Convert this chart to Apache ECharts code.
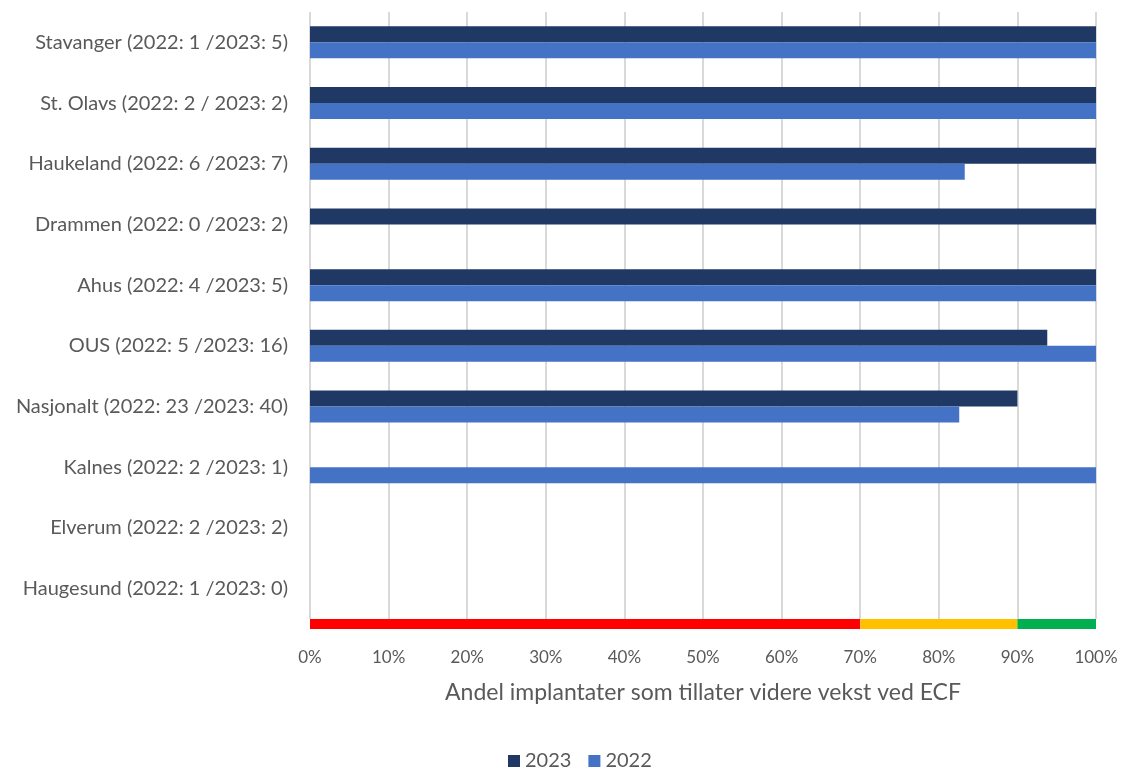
<!DOCTYPE html>
<html>
<head>
<meta charset="utf-8">
<script src="https://cdn.jsdelivr.net/npm/echarts@6/dist/echarts.min.js"></script>
<style>
  html, body { margin: 0; padding: 0; background: #ffffff; }
  #chart { width: 1127px; height: 769px; }
</style>
</head>
<body>
<div id="chart"></div>
<script>
// Sykehus, med antall implantater i parentes
const categories = [
  'Stavanger (2022: 1 /2023: 5)',
  'St. Olavs (2022: 2 / 2023: 2)',
  'Haukeland (2022: 6 /2023: 7)',
  'Drammen (2022: 0 /2023: 2)',
  'Ahus (2022: 4 /2023: 5)',
  'OUS (2022: 5 /2023: 16)',
  'Nasjonalt (2022: 23 /2023: 40)',
  'Kalnes (2022: 2 /2023: 1)',
  'Elverum (2022: 2 /2023: 2)',
  'Haugesund (2022: 1 /2023: 0)'
];

// Andel (%) implantater som tillater videre vekst
const values2023 = [100, 100, 100, 100, 100, 93.8, 90, 0, 0, null];
const values2022 = [100, 100, 83.3, null, 100, 100, 82.6, 100, 0, 0];

// Fargesoner langs x-aksen: rød / gul / grønn (bredde i prosentpoeng)
const zoneNames = ['Rød', 'Gul', 'Grønn'];
const zoneWidths = [70, 20, 10];
const zoneColors = ['#FF0000', '#FFC000', '#00B050'];

const xTicks = [0, 10, 20, 30, 40, 50, 60, 70, 80, 90, 100];

const FONT = 'Lato, "Open Sans", sans-serif';
const TEXT = '#595959';

const chart = echarts.init(document.getElementById('chart'), null, { renderer: 'canvas' });

const zoneSeries = zoneWidths.map((w, i) => ({
  name: zoneNames[i],
  type: 'bar',
  xAxisIndex: 1,
  yAxisIndex: 1,
  stack: 'soner',
  barWidth: '100%',
  data: [w],
  itemStyle: { color: zoneColors[i] },
  silent: true
}));

chart.setOption({
  animation: false,
  backgroundColor: '#ffffff',
  textStyle: { fontFamily: FONT },
  legend: {
    data: ['2023', '2022'],
    bottom: -7,
    left: 503,
    itemWidth: 12,
    itemHeight: 12,
    itemGap: 17,
    icon: 'rect',
    textStyle: { color: TEXT, fontSize: 20, fontFamily: FONT }
  },
  grid: [
    { left: 310, right: 31, top: 12, bottom: 150 },
    { left: 310, right: 31, top: 619, height: 10 }
  ],
  xAxis: [
    {
      gridIndex: 0,
      type: 'value',
      min: 0, max: 100, interval: 10,
      axisLine: { show: false },
      axisTick: { show: false },
      axisLabel: { show: false },
      splitLine: { show: true, lineStyle: { color: '#d9d9d9', width: 2 } }
    },
    {
      gridIndex: 1,
      type: 'value',
      min: 0, max: 100, interval: 10,
      axisLine: { show: false },
      axisTick: { show: false },
      splitLine: { show: false },
      axisLabel: {
        color: TEXT, fontSize: 17, fontFamily: FONT, margin: 20,
        formatter: v => (xTicks.includes(v) ? v + '%' : '')
      },
      name: 'Andel implantater som tillater videre vekst ved ECF',
      nameLocation: 'middle',
      nameGap: 52,
      nameTextStyle: { color: TEXT, fontSize: 23, fontFamily: FONT }
    }
  ],
  yAxis: [
    {
      gridIndex: 0,
      type: 'category',
      data: categories,
      inverse: true,
      axisLine: { show: false },
      axisTick: { show: false },
      splitLine: { show: false },
      axisLabel: { color: TEXT, fontSize: 20, fontFamily: FONT, margin: 22 }
    },
    {
      gridIndex: 1,
      type: 'category',
      data: [''],
      axisLine: { show: false },
      axisTick: { show: false },
      axisLabel: { show: false }
    }
  ],
  series: [
    {
      name: '2023',
      type: 'bar',
      data: values2023,
      barWidth: 16,
      barGap: '0%',
      itemStyle: { color: '#203864' }
    },
    {
      name: '2022',
      type: 'bar',
      data: values2022,
      barWidth: 16,
      barGap: '0%',
      itemStyle: { color: '#4472C4' }
    },
    ...zoneSeries
  ]
});
</script>
</body>
</html>
